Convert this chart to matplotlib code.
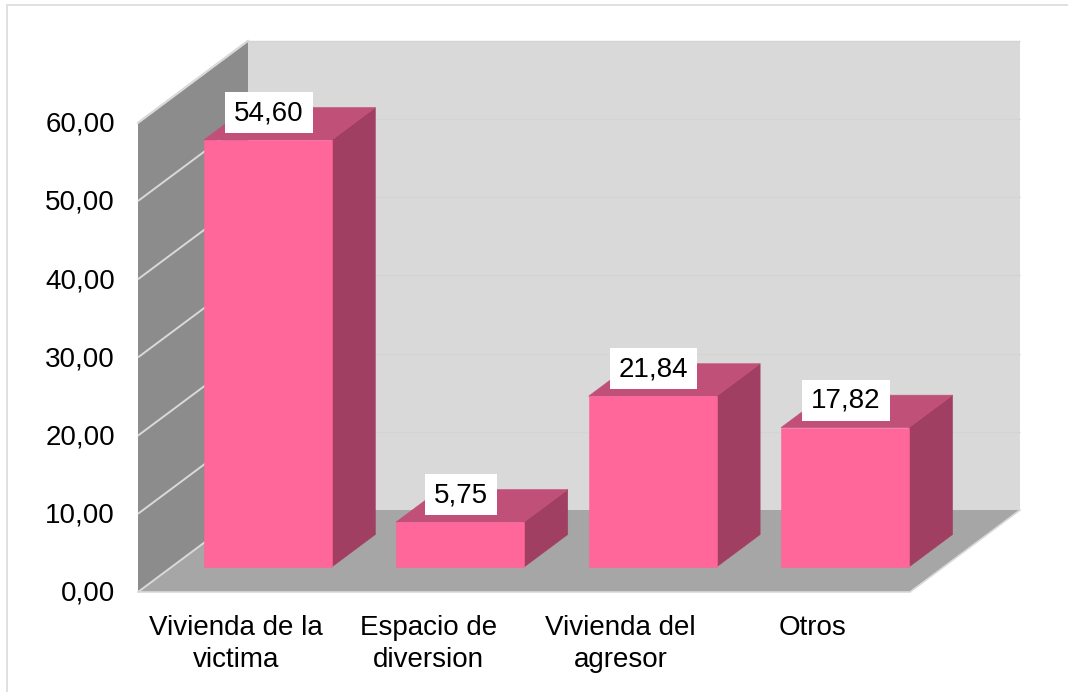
import matplotlib
matplotlib.use("Agg")
import matplotlib.pyplot as plt
from matplotlib.lines import Line2D
from matplotlib.patches import Polygon, Rectangle

categories = ["Vivienda de la\nvictima", "Espacio de\ndiversion", "Vivienda del\nagresor", "Otros"]
values = [54.60, 5.75, 21.84, 17.82]
value_labels = ["54,60", "5,75", "21,84", "17,82"]
y_ticks = [0, 10, 20, 30, 40, 50, 60]
y_tick_labels = ["0,00", "10,00", "20,00", "30,00", "40,00", "50,00", "60,00"]

W, H = 1068, 692
FS = 20
plt.rcParams["font.family"] = ["Liberation Sans", "DejaVu Sans"]
fig = plt.figure(figsize=(W / 100, H / 100), dpi=100, facecolor="white")
ax = fig.add_axes([0, 0, 1, 1])

# scales: pixels per category and per value unit
PX_X, PX_Y = 192.4, 7.82
X0, Y0 = 138.0, 592.0
ax.set_xlim(-0.5 - X0 / PX_X, -0.5 + (W - X0) / PX_X)
ax.set_ylim(-(H - Y0) / PX_Y, Y0 / PX_Y)
ax.axis("off")

# depth vector of the 3D box, in data units
DX, DY = 110.0 / PX_X, 82.0 / PX_Y
x_lo, x_hi = -0.5, -0.5 + 772.0 / PX_X
y_top = 60


def proj(x, v, d):
    return (x + d * DX, v + d * DY)


def face(points, color, z, edge=None, lw=0.0):
    ax.add_patch(Polygon(points, closed=True, facecolor=color, edgecolor=edge or color,
                         linewidth=lw, zorder=z, joinstyle="miter"))


# back wall, left wall, floor
face([proj(x_lo, 0, 1), proj(x_hi, 0, 1), proj(x_hi, y_top, 1), proj(x_lo, y_top, 1)], "#d9d9d9", 1)
face([proj(x_lo, 0, 0), proj(x_lo, 0, 1), proj(x_lo, y_top, 1), proj(x_lo, y_top, 0)], "#8c8c8c", 1)
face([proj(x_lo, 0, 0), proj(x_hi, 0, 0), proj(x_hi, 0, 1), proj(x_lo, 0, 1)], "#a6a6a6", 1)

# gridlines
for t in y_ticks:
    a, b, c = proj(x_lo, t, 0), proj(x_lo, t, 1), proj(x_hi, t, 1)
    ax.plot([a[0], b[0]], [a[1], b[1]], color="#d9d9d9", lw=1.4, zorder=2, solid_capstyle="butt")
    if t > 0:
        ax.plot([b[0], c[0]], [b[1], c[1]], color="#d4d4d4", lw=1.0, zorder=2, solid_capstyle="butt")
# wall and floor outlines
ax.plot(*zip(proj(x_lo, y_top, 0), proj(x_lo, y_top, 1)), color="#d9d9d9", lw=1.4, zorder=2)
ax.plot(*zip(proj(x_lo, 0, 0), proj(x_hi, 0, 0), proj(x_hi, 0, 1)), color="#d9d9d9", lw=1.2, zorder=2)

# bars
BAR_W = 128.0 / PX_X
D_FRONT, D_BACK = 25.0 / 82.0, 57.5 / 82.0
FRONT_C, SIDE_C, TOP_C = "#ff6699", "#a03f62", "#c05078"
renderer = fig.canvas.get_renderer()
for i, (v, lab) in enumerate(zip(values, value_labels)):
    l, r = i - BAR_W / 2, i + BAR_W / 2
    z = 3 + i * 0.1
    face([proj(r, 0, D_FRONT), proj(r, 0, D_BACK), proj(r, v, D_BACK), proj(r, v, D_FRONT)], SIDE_C, z, lw=0.4)
    face([proj(l, v, D_FRONT), proj(r, v, D_FRONT), proj(r, v, D_BACK), proj(l, v, D_BACK)], TOP_C, z, lw=0.4)
    face([proj(l, 0, D_FRONT), proj(r, 0, D_FRONT), proj(r, v, D_FRONT), proj(l, v, D_FRONT)], FRONT_C, z + 0.01, lw=0.4)
    cx, cy = proj(i, v, D_FRONT)
    cx += 1.0 / PX_X
    cy += 27.5 / PX_Y
    txt = ax.text(cx, cy - 0.5 / PX_Y, lab, fontsize=FS, color="black", ha="center", va="center", zorder=7)
    box_w = (txt.get_window_extent(renderer).width + 18.0) / PX_X
    box_h = 41.0 / PX_Y
    ax.add_patch(Rectangle((cx - box_w / 2, cy - box_h / 2), box_w, box_h, facecolor="white",
                           edgecolor="none", zorder=6))

# tick labels
for t, lab in zip(y_ticks, y_tick_labels):
    ax.text(x_lo - 23.0 / PX_X, t - 2.0 / PX_Y, lab, fontsize=FS, color="black", ha="right", va="center", zorder=7)
for i, lab in enumerate(categories):
    ax.text(i + 1.5 / PX_X, -23.0 / PX_Y, lab, fontsize=FS, color="black", ha="center", va="top",
            linespacing=1.3, zorder=7)

# chart border (only the top and left edges fall inside the picture)
fig.add_artist(Line2D([6.5 / W, 6.5 / W, 1], [0, 1 - 4.5 / H, 1 - 4.5 / H], transform=fig.transFigure,
                      color="#e0e0e0", linewidth=1.4))

fig.savefig("out.png", dpi=100)
